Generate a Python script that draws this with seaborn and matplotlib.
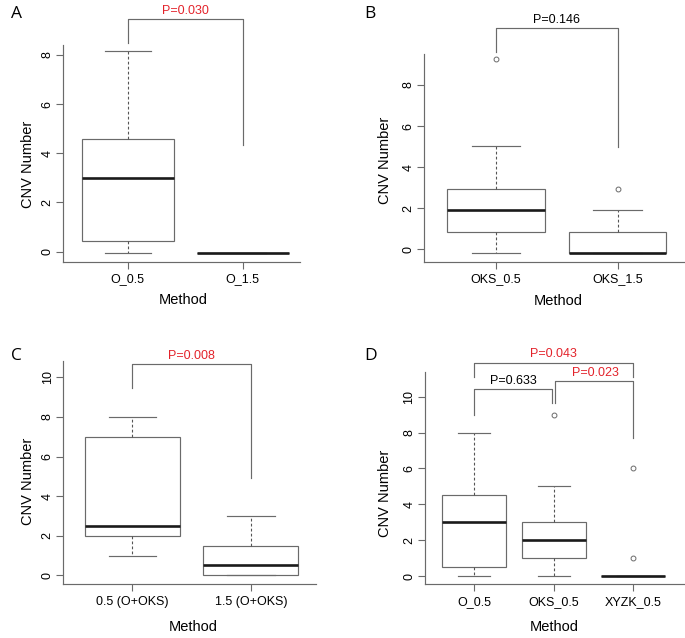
import matplotlib
matplotlib.use("Agg")
import matplotlib.pyplot as plt
import seaborn as sns
import pandas as pd

plt.rcParams['font.family'] = ['Liberation Sans', 'DejaVu Sans']

# ---- data ----
# Panel A
a_order = ["O_0.5", "O_1.5"]
a_o_05 = [-0.07, 0.45, 3.0, 4.57, 8.16]
a_o_15 = [-0.07, -0.07, -0.07, -0.07, -0.07]
a_pvals = ["P=0.030"]

# Panel B
b_order = ["OKS_0.5", "OKS_1.5"]
b_oks_05 = [-0.2, 0.85, 0.85, 1.9, 1.9, 2.95, 2.95, 5.05, 9.25]
b_oks_15 = [-0.2, -0.2, -0.2, -0.2, -0.2, 0.85, 0.85, 1.9, 2.95]
b_pvals = ["P=0.146"]

# Panel C
c_order = ["0.5 (O+OKS)", "1.5 (O+OKS)"]
c_o_05 = [1, 2, 2.5, 7, 8]
c_o_15 = [0, 0, 0.5, 1.5, 3]
c_pvals = ["P=0.008"]

# Panel D
d_order = ["O_0.5", "OKS_0.5", "XYZK_0.5"]
d_o_05 = [0, 0.5, 3, 4.5, 8]
d_oks_05 = [0, 1, 1, 2, 2, 3, 3, 5, 9]
d_xyzk_05 = [0, 0, 0, 0, 0, 0, 0, 1, 6]
d_pvals = ["P=0.633", "P=0.023", "P=0.043"]

W, H = 685, 638
RED = '#e3232b'
GREY = '#6a6a6a'


def long_df(order, groups):
    rows = []
    for name, vals in zip(order, groups):
        for v in vals:
            rows.append({'Method': name, 'CNV': v})
    return pd.DataFrame(rows)


def draw_panel(fig, box_px, df, order, xlim, ylim, yticks, letter, letter_px,
               ylab_px, xlab_px, brackets):
    x0, y0, x1, y1 = box_px
    ax = fig.add_axes([x0 / W, 1 - y1 / H, (x1 - x0) / W, (y1 - y0) / H])
    sns.boxplot(data=df, x='Method', y='CNV', order=order, ax=ax,
                color='white', linecolor=GREY, linewidth=0.85, width=0.8,
                fliersize=3.5,
                flierprops=dict(marker='o', markerfacecolor='none',
                                markeredgecolor=GREY, markeredgewidth=0.7),
                whiskerprops=dict(linestyle=(0, (2.5, 2)), color='#555555', linewidth=0.8),
                medianprops=dict(color='#1a1a1a', linewidth=1.9),
                capprops=dict(color=GREY, linewidth=0.85))
    ax.set_xlim(*xlim)
    ax.set_ylim(*ylim)
    ax.set_yticks(yticks)
    ax.set_yticklabels([str(t) for t in yticks])
    for s in ['top', 'right']:
        ax.spines[s].set_visible(False)
    for s in ['left', 'bottom']:
        ax.spines[s].set_color(GREY)
        ax.spines[s].set_linewidth(0.85)
    ax.tick_params(axis='both', length=5, width=0.8, color=GREY, labelsize=9)
    ax.tick_params(axis='y', labelrotation=90, pad=2)
    for t in ax.get_yticklabels():
        t.set_va('center')
    ax.set_xlabel('Method', fontsize=10.5, va='center')
    ax.set_ylabel('CNV Number', fontsize=10.5, va='center')
    ax.xaxis.set_label_coords(xlab_px[0] / W, 1 - xlab_px[1] / H, transform=fig.transFigure)
    ax.yaxis.set_label_coords(ylab_px[0] / W, 1 - ylab_px[1] / H, transform=fig.transFigure)

    for (bx1, bx2, ytop, yb1, yb2, text, col, tx) in brackets:
        ax.plot([bx1, bx1, bx2, bx2], [yb1, ytop, ytop, yb2], color=GREY,
                linewidth=0.85, clip_on=False)
        ax.annotate(text, (tx, ytop), xytext=(0, 1.5), textcoords='offset points',
                    ha='center', va='bottom', color=col, fontsize=9,
                    annotation_clip=False)

    fig.text(letter_px[0] / W, 1 - letter_px[1] / H, letter, fontsize=12.5,
             family='Open Sans', ha='left', va='baseline')
    return ax


fig = plt.figure(figsize=(W / 100, H / 100), dpi=100)
fig.patch.set_facecolor('white')

draw_panel(fig, (63.3, 45, 300, 261.7), long_df(a_order, [a_o_05, a_o_15]), a_order,
           (-0.56, 1.5), (-0.41, 8.4), [0, 2, 4, 6, 8], 'A', (11, 18.5),
           (28, 164), (183, 300),
           [(0, 1, 9.46, 8.47, 4.34, a_pvals[0], RED, 0.5)])

draw_panel(fig, (424.3, 54, 684, 261.7), long_df(b_order, [b_oks_05, b_oks_15]), b_order,
           (-0.589, 1.545), (-0.6, 9.51), [0, 2, 4, 6, 8], 'B', (364, 18.5),
           (385, 160), (558, 301),
           [(0, 1, 10.79, 9.62, 5.0, b_pvals[0], 'black', 0.5)])

draw_panel(fig, (63.3, 360.7, 316, 584.3), long_df(c_order, [c_o_05, c_o_15]), c_order,
           (-0.583, 1.55), (-0.45, 10.84), [0, 2, 4, 6, 8, 10], 'C', (11, 360),
           (28, 481), (193, 627),
           [(0, 1, 10.66, 9.44, 4.9, c_pvals[0], RED, 0.5)])

draw_panel(fig, (425, 371.7, 684, 584.3), long_df(d_order, [d_o_05, d_oks_05, d_xyzk_05]),
           d_order, (-0.615, 2.636), (-0.46, 11.39), [0, 2, 4, 6, 8, 10], 'D', (364, 360),
           (385, 493), (554, 627),
           [(0, 0.98, 10.43, 8.98, 9.67, d_pvals[0], 'black', 0.49),
            (1.02, 2, 10.88, 9.67, 7.68, d_pvals[1], RED, 1.52),
            (0, 2, 11.9, 11.08, 11.08, d_pvals[2], RED, 1.0)])

fig.savefig('out.png', dpi=100)
